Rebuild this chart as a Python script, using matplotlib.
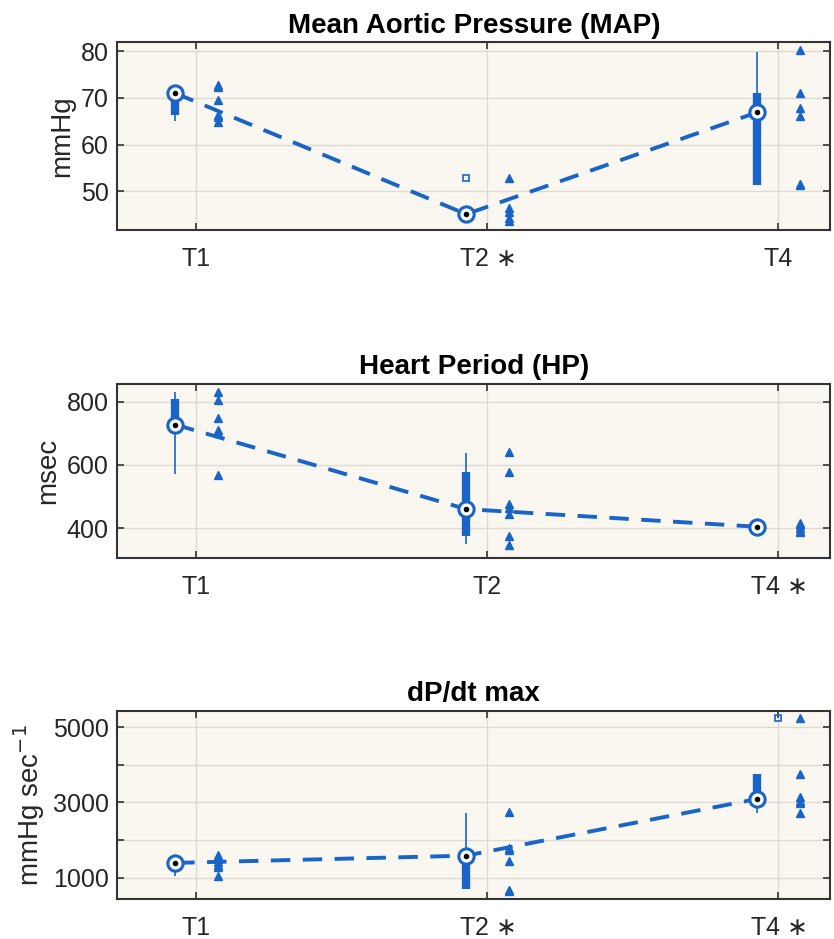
import numpy as np
import matplotlib.pyplot as plt

# time points
labels_map = ["T1", "T2 $\\ast$", "T4"]
labels_hp = ["T1", "T2", "T4 $\\ast$"]
labels_dp = ["T1", "T2 $\\ast$", "T4 $\\ast$"]

# box stats per time point: median, q1, q3, whisker low, whisker high
map_med = [71.0, 45.1, 66.9]
map_q1 = [66.3, 45.1, 51.4]
map_q3 = [71.0, 45.1, 71.0]
map_lo = [65.0, 45.1, 51.4]
map_hi = [72.5, 45.1, 79.9]
map_out = [[], [52.8], []]
map_raw = [[72.8, 72.3, 69.6, 66.3, 65.8, 64.9],
           [52.8, 46.4, 45.6, 44.2, 43.6],
           [80.2, 71.0, 67.9, 66.1, 51.6, 51.3]]

hp_med = [728, 460, 404]
hp_q1 = [728, 374, 404]
hp_q3 = [808, 577, 404]
hp_lo = [572, 348, 404]
hp_hi = [831, 639, 404]
hp_out = [[], [], []]
hp_raw = [[832, 806, 748, 710, 700, 569],
          [641, 577, 476, 463, 446, 374, 346],
          [416, 408, 400, 392, 388]]

dp_med = [1397, 1590, 3093]
dp_q1 = [1397, 709, 3093]
dp_q3 = [1397, 1590, 3762]
dp_lo = [1042, 709, 2722]
dp_hi = [1397, 2722, 3762]
dp_out = [[], [], [5240]]
dp_out_shift = [0, 0, 1]
dp_raw = [[1610, 1500, 1420, 1350, 1300, 1050],
          [2737, 1795, 1750, 1458, 690, 645],
          [5238, 3762, 3135, 3050, 2987, 2722]]

blue = "#1964C8"
bg = "#F9F7F0"
gridc = "#DCDAD2"
plt.rcParams['font.family'] = ['Liberation Sans', 'DejaVu Sans']

fig = plt.figure(figsize=(8.34, 9.39), dpi=100)
pos = [[0.1403, 0.7550, 0.8555, 0.2000],
       [0.1403, 0.4058, 0.8555, 0.1853],
       [0.1403, 0.0426, 0.8555, 0.2000]]


def panel(ax, title, ylab, med, q1, q3, lo, hi, out, raw, xlabels, ylim, yticks, ylabs, out_shift=None):
    x = np.arange(1, 4)
    xb = x - 0.072
    xr = x + 0.076
    ax.set_facecolor(bg)
    ax.plot(xb, med, color=blue, lw=2.8, ls=(0, (5, 3.2)), zorder=2)
    ax.vlines(xb, lo, hi, color=blue, lw=1.2, zorder=3)
    ax.vlines(xb, q1, q3, color=blue, lw=6, zorder=3)
    for i in range(3):
        if raw[i]:
            ax.plot([xr[i]] * len(raw[i]), raw[i], ls='none', marker='^', ms=6,
                    color=blue, zorder=4)
        if out[i]:
            sx = x[i] if (out_shift and out_shift[i]) else xb[i]
            ax.plot([sx] * len(out[i]), out[i], ls='none', marker='s', ms=5,
                    mfc='none', mec=blue, mew=1.2, zorder=4)
    ax.plot(xb, med, ls='none', marker='o', ms=11, mfc='white', mec=blue, mew=2.2, zorder=5)
    ax.plot(xb, med, ls='none', marker='o', ms=3, color='black', zorder=6)
    ax.set_xlim(0.728, 3.18)
    ax.set_ylim(*ylim)
    ax.set_xticks(x)
    ax.set_xticklabels(xlabels, fontsize=18, color='#262626')
    ax.set_yticks(yticks)
    ax.set_yticklabels(ylabs, fontsize=18, color='#262626')
    ax.grid(True, color=gridc, lw=1)
    ax.set_axisbelow(True)
    ax.tick_params(direction='in', top=True, right=True, length=5, width=1.2,
                   color='#333333')
    ax.tick_params(axis='x', pad=12)
    ax.tick_params(axis='y', pad=6)
    for s in ax.spines.values():
        s.set_color('#333333')
        s.set_linewidth(1.5)
    ax.set_title(title, fontsize=20, fontweight='bold', pad=7)
    ax.set_ylabel(ylab, fontsize=20, color='#262626', labelpad=4)


ax1 = fig.add_axes(pos[0])
panel(ax1, "Mean Aortic Pressure (MAP)", "mmHg", map_med, map_q1, map_q3, map_lo, map_hi,
      map_out, map_raw, labels_map, (41.7, 81.9), [50, 60, 70, 80], ["50", "60", "70", "80"])

ax2 = fig.add_axes(pos[1])
panel(ax2, "Heart Period (HP)", "msec", hp_med, hp_q1, hp_q3, hp_lo, hp_hi,
      hp_out, hp_raw, labels_hp, (305, 857), [400, 600, 800], ["400", "600", "800"])

ax3 = fig.add_axes(pos[2])
panel(ax3, "dP/dt max", "mmHg sec$^{-1}$", dp_med, dp_q1, dp_q3, dp_lo, dp_hi,
      dp_out, dp_raw, labels_dp, (440, 5420), [1000, 2000, 3000, 4000, 5000],
      ["1000", "", "3000", "", "5000"], out_shift=dp_out_shift)

fig.savefig("out.png", dpi=100, facecolor='white')
